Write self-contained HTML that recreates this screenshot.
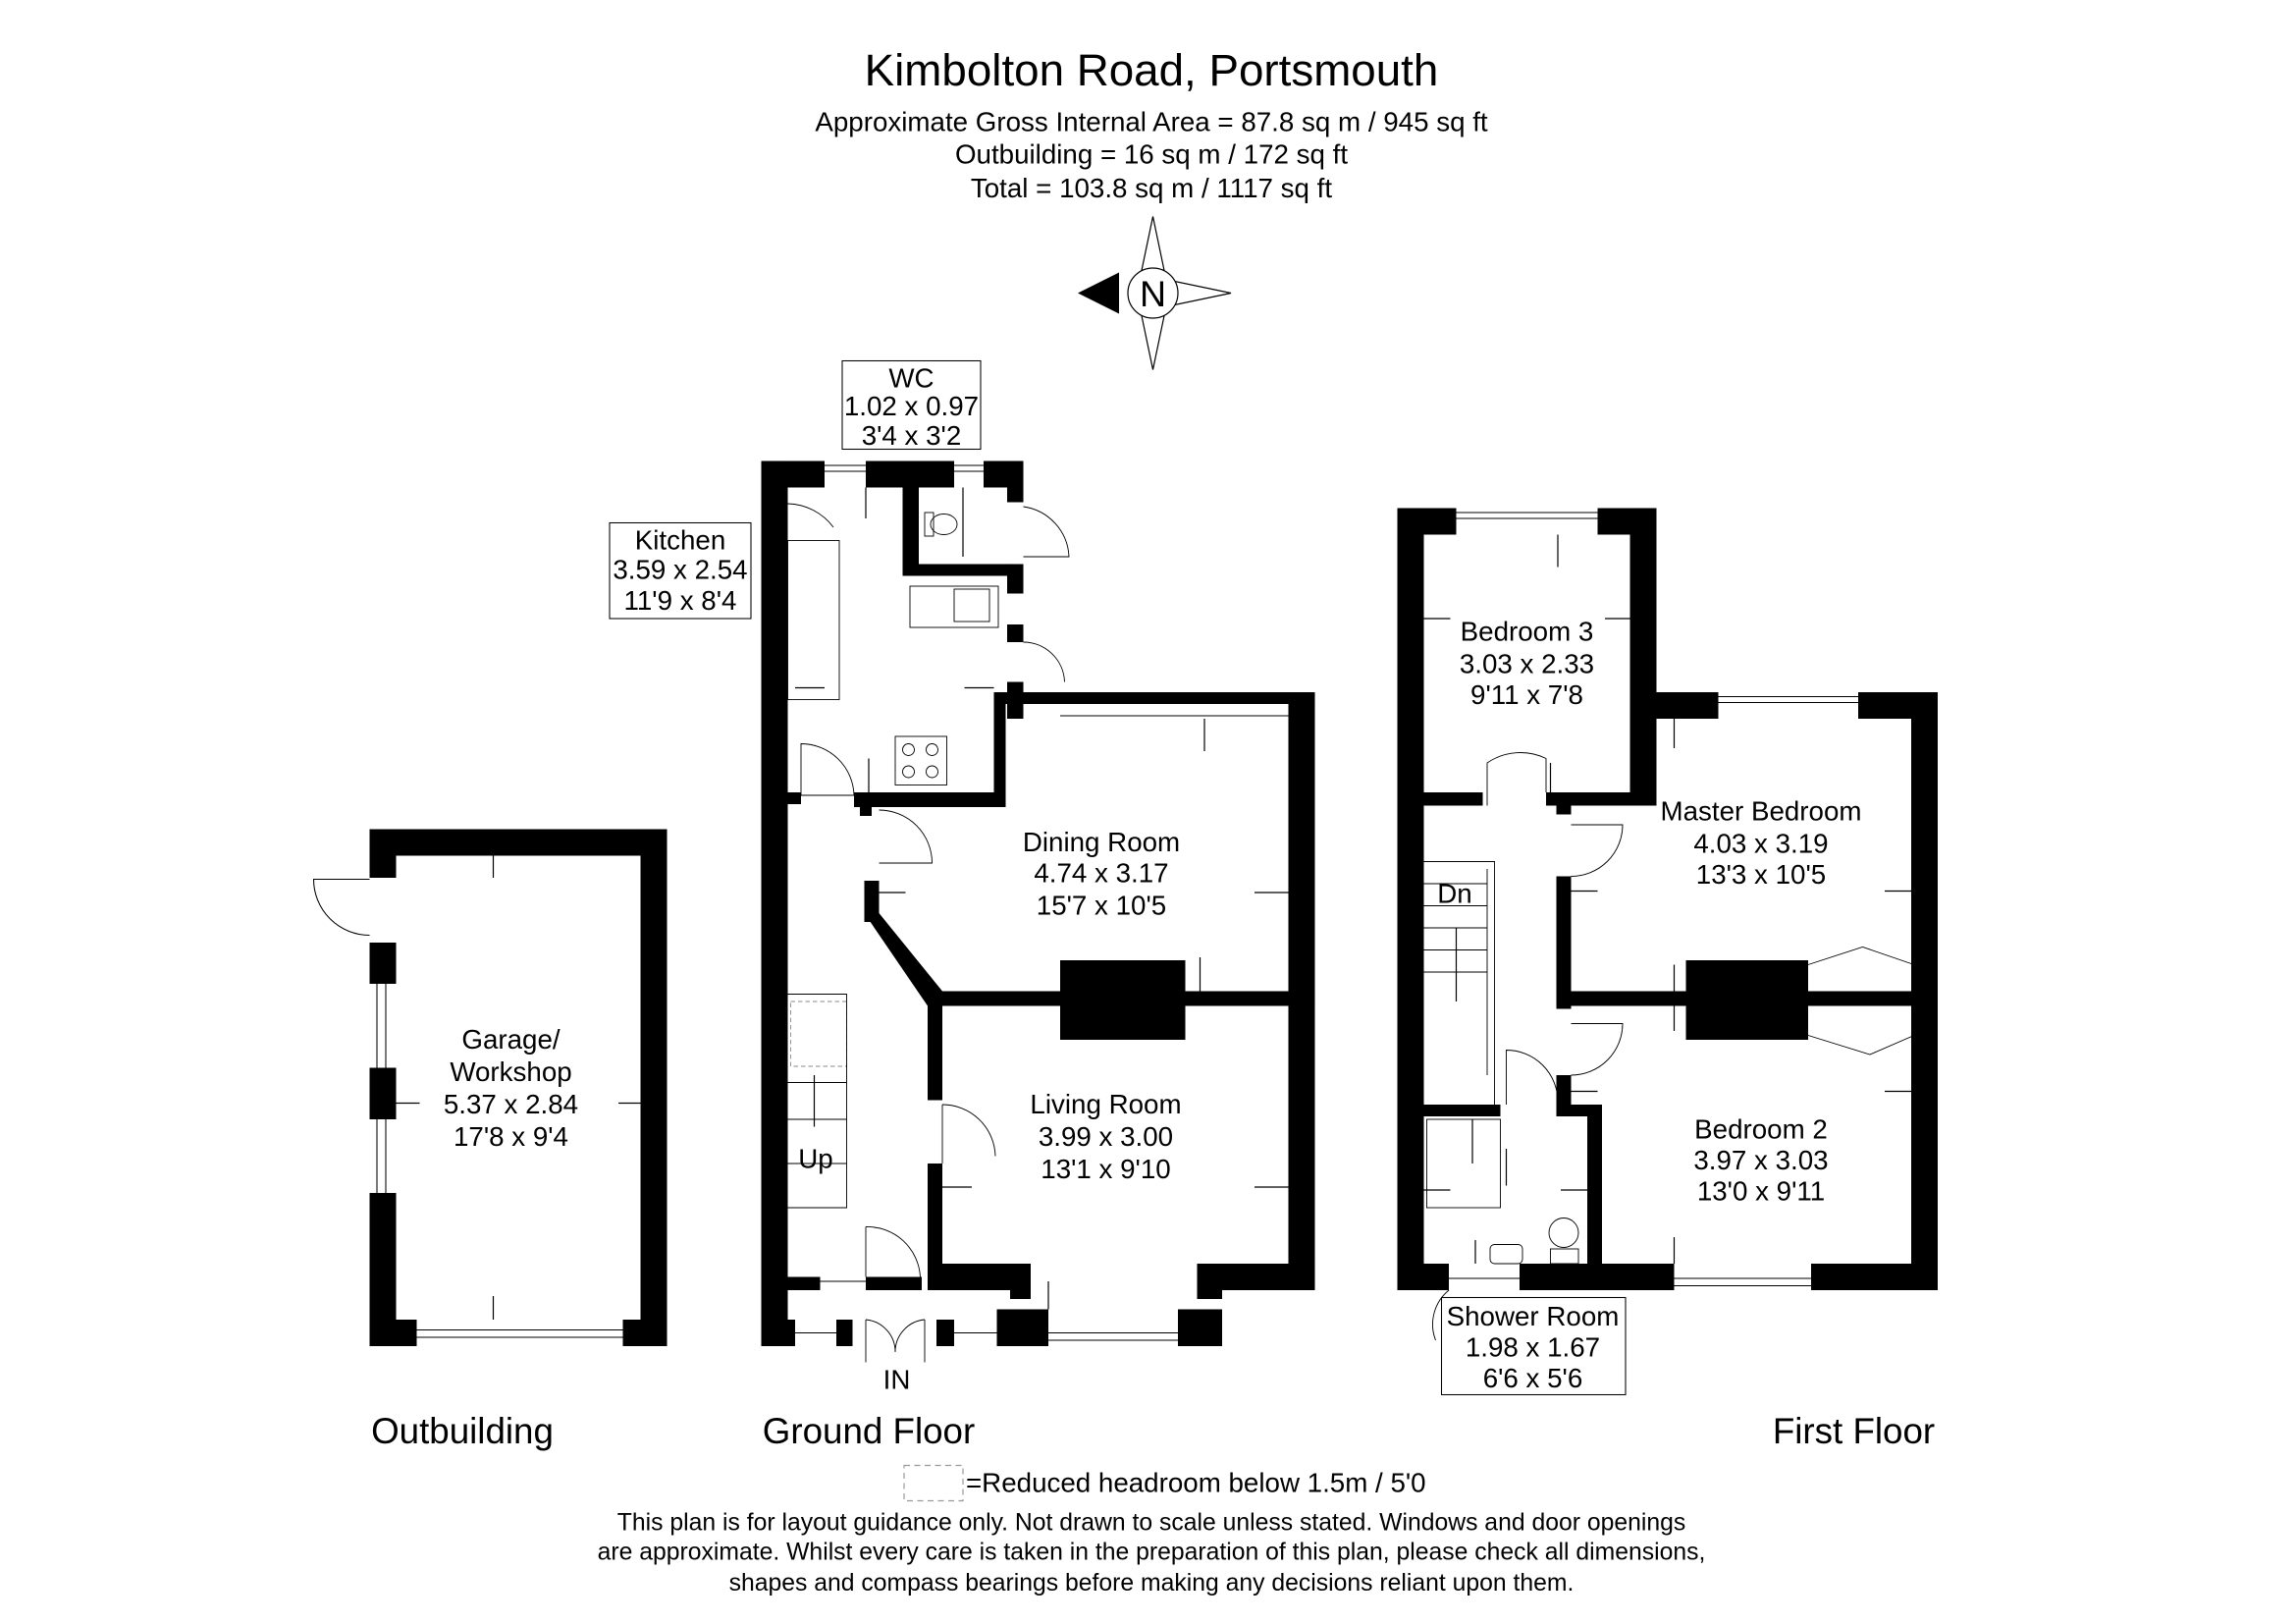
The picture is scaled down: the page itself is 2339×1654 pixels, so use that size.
<!DOCTYPE html>
<html><head><meta charset="utf-8"><style>
html,body{margin:0;padding:0;background:#fff;}
svg{display:block;}
text{font-family:"Liberation Sans",Arial,sans-serif;fill:#000;}
</style></head><body>
<svg width="2339" height="1654" viewBox="0 0 1559.33 1102.67" xmlns="http://www.w3.org/2000/svg">
<rect width="1559.33" height="1102.67" fill="#fff"/>
<g text-anchor="middle">
<text x="782" y="58" font-size="30.5">Kimbolton Road, Portsmouth</text>
<text x="782" y="89" font-size="18.5">Approximate Gross Internal Area = 87.8 sq m / 945 sq ft</text>
<text x="782" y="111" font-size="18.5">Outbuilding = 16 sq m / 172 sq ft</text>
<text x="782" y="134" font-size="18.5">Total = 103.8 sq m / 1117 sq ft</text>
</g>
<!-- compass -->
<g stroke="#000" stroke-width="0.8" fill="#fff">
<polygon points="783,147 792,190 783,199 774,190"/>
<polygon points="783,251 792,208 783,199 774,208"/>
<polygon points="836,199 793,190 783,199 793,208"/>
<circle cx="783" cy="199" r="17"/>
</g>
<polygon points="732,199 760,185 760,213" fill="#000"/>
<text x="783" y="208" font-size="25" text-anchor="middle">N</text>

<!-- OUTBUILDING -->
<g fill="#000">
<rect x="251" y="563" width="202" height="18"/>
<rect x="435" y="563" width="18" height="351"/>
<rect x="251" y="896" width="32" height="18"/>
<rect x="423" y="896" width="30" height="18"/>
<rect x="251" y="640" width="18" height="28"/>
<rect x="251" y="725" width="18" height="35"/>
<rect x="251" y="810" width="18" height="104"/>
<rect x="251" y="581" width="18" height="15"/>
</g>
<g stroke="#000" stroke-width="0.7" fill="none">
<line x1="283" y1="903" x2="423" y2="903"/><line x1="283" y1="908" x2="423" y2="908"/>
<line x1="256" y1="668" x2="256" y2="725"/><line x1="262" y1="668" x2="262" y2="725"/>
<line x1="256" y1="760" x2="256" y2="810"/><line x1="262" y1="760" x2="262" y2="810"/>
<path d="M251,597 L213,597 A38,38 0 0 0 251,635"/>
</g>
<g text-anchor="middle" font-size="18.5">
<text x="347" y="712">Garage/</text><text x="347" y="734">Workshop</text>
<text x="347" y="756">5.37 x 2.84</text><text x="347" y="778">17'8 x 9'4</text>
</g>

<!-- GROUND FLOOR -->
<g fill="#000">
<rect x="517" y="313" width="18" height="601"/>
<rect x="517" y="313" width="43" height="18"/>
<rect x="588" y="313" width="60" height="18"/>
<rect x="668" y="313" width="20" height="18"/>
<rect x="613" y="331" width="11" height="58"/>
<rect x="613" y="383" width="75" height="8"/>
<rect x="684" y="313" width="11" height="28"/>
<rect x="684" y="383" width="11" height="20"/>
<rect x="684" y="424" width="11" height="12"/>
<rect x="684" y="463" width="11" height="25"/>
<rect x="675" y="470" width="218" height="8"/>
<rect x="675" y="478" width="8" height="70"/>
<rect x="580" y="538" width="103" height="10"/>
<rect x="517" y="538" width="27" height="8"/>
<rect x="875" y="470" width="18" height="406"/>
<rect x="630" y="673" width="263" height="10"/>
<rect x="720" y="652" width="85" height="54"/>
<rect x="584" y="548" width="8" height="6"/>
<rect x="587" y="598" width="10" height="28"/>
<polygon points="587,620 597,620 640,673 630,683"/>
<rect x="630" y="680" width="10" height="67"/>
<rect x="630" y="790" width="10" height="86"/>
<rect x="630" y="858" width="70" height="18"/>
<rect x="813" y="858" width="80" height="18"/>
<rect x="588" y="867" width="38" height="9"/>
<rect x="517" y="867" width="40" height="9"/>
<rect x="517" y="896" width="23" height="18"/>
<rect x="568" y="896" width="11" height="18"/>
<rect x="636" y="896" width="12" height="18"/>
<rect x="677" y="889" width="35" height="25"/>
<rect x="800" y="889" width="30" height="25"/>
<rect x="686" y="876" width="14" height="6"/>
<rect x="813" y="876" width="17" height="6"/>
</g>
<g stroke="#000" stroke-width="0.6" fill="none">
<line x1="560" y1="316" x2="588" y2="316"/><line x1="560" y1="320" x2="588" y2="320"/>
<line x1="648" y1="316" x2="668" y2="316"/><line x1="648" y1="320" x2="668" y2="320"/>
<line x1="712" y1="472" x2="875" y2="472"/><line x1="720" y1="486" x2="875" y2="486"/>
<line x1="712" y1="905" x2="800" y2="905"/><line x1="712" y1="910" x2="800" y2="910"/>
<line x1="540" y1="905" x2="568" y2="905"/><line x1="648" y1="905" x2="677" y2="905"/>
<line x1="557" y1="870" x2="588" y2="870"/>
<rect x="535" y="367" width="35" height="108"/>
<rect x="618" y="398" width="60" height="28"/>
<rect x="648" y="400" width="24" height="22"/>
<rect x="608" y="500" width="35" height="33"/>
<circle cx="617" cy="509" r="4"/><circle cx="633" cy="509" r="4"/><circle cx="617" cy="524" r="4"/><circle cx="633" cy="524" r="4"/>
<ellipse cx="641" cy="356" rx="9" ry="7"/>
<rect x="628" y="348" width="6" height="16"/>
<path d="M695,344 A36,36 0 0 1 726,378 L695,378"/>
<path d="M695,436 A28,28 0 0 1 723,463"/>
<path d="M544,505 A36,36 0 0 1 580,540 L544,540 Z" />
<path d="M597,550 A36,36 0 0 1 633,586 L597,586"/>
<path d="M640,750 A36,36 0 0 1 676,785"/>
<line x1="640" y1="790" x2="640" y2="750"/>
<path d="M588,833 L588,867"/><path d="M588,833 A36,36 0 0 1 625,867"/>
<path d="M588,896 L588,925 M588,896 A22,22 0 0 1 608,918 M628,896 A22,22 0 0 0 608,918 M628,896 L628,925"/>
<path d="M535,342 A40,40 0 0 1 566,358"/>
<rect x="537" y="680" width="38" height="44" stroke-dasharray="3,2" stroke="#888"/>
<path d="M535,675 L575,675 L575,820 L535,820 M535,735 L575,735 M535,760 L575,760 M535,790 L575,790"/>
</g>
<g stroke="#000" stroke-width="0.8">
<line x1="588" y1="331" x2="588" y2="352"/><line x1="654" y1="331" x2="654" y2="378"/>
<line x1="540" y1="467" x2="560" y2="467"/><line x1="675" y1="467" x2="655" y2="467"/>
<line x1="590" y1="538" x2="590" y2="515"/><line x1="818" y1="488" x2="818" y2="510"/>
<line x1="597" y1="606" x2="615" y2="606"/><line x1="875" y1="606" x2="852" y2="606"/>
<line x1="815" y1="673" x2="815" y2="650"/><line x1="752" y1="683" x2="752" y2="700"/>
<line x1="640" y1="806" x2="660" y2="806"/><line x1="875" y1="806" x2="852" y2="806"/>
<line x1="553" y1="730" x2="553" y2="765"/><line x1="712" y1="889" x2="712" y2="870"/>
<line x1="335" y1="581" x2="335" y2="596"/><line x1="335" y1="896" x2="335" y2="880"/>
<line x1="269" y1="749" x2="285" y2="749"/><line x1="435" y1="749" x2="420" y2="749"/>
</g>
<g text-anchor="middle" font-size="18.5">
<rect x="572" y="245" width="94" height="60" fill="none" stroke="#000" stroke-width="0.7"/>
<text x="619" y="263">WC</text><text x="619" y="282">1.02 x 0.97</text><text x="619" y="302">3'4 x 3'2</text>
<rect x="414" y="355" width="96" height="65" fill="none" stroke="#000" stroke-width="0.7"/>
<text x="462" y="373">Kitchen</text><text x="462" y="393">3.59 x 2.54</text><text x="462" y="414">11'9 x 8'4</text>
<text x="748" y="578">Dining Room</text><text x="748" y="599">4.74 x 3.17</text><text x="748" y="621">15'7 x 10'5</text>
<text x="751" y="756">Living Room</text><text x="751" y="778">3.99 x 3.00</text><text x="751" y="800">13'1 x 9'10</text>
<text x="554" y="793">Up</text>
<text x="609" y="943">IN</text>
</g>

<!-- FIRST FLOOR -->
<g fill="#000">
<rect x="949" y="345" width="18" height="531"/>
<rect x="949" y="345" width="40" height="18"/>
<rect x="1085" y="345" width="40" height="18"/>
<rect x="1107" y="345" width="18" height="200"/>
<rect x="1107" y="470" width="60" height="18"/>
<rect x="1262" y="470" width="54" height="18"/>
<rect x="1298" y="470" width="18" height="406"/>
<rect x="967" y="538" width="40" height="9"/>
<rect x="1050" y="538" width="75" height="9"/>
<rect x="1057" y="547" width="10" height="6"/>
<rect x="1057" y="595" width="10" height="90"/>
<rect x="1057" y="673" width="259" height="10"/>
<rect x="1145" y="652" width="83" height="54"/>
<rect x="1057" y="730" width="10" height="28"/>
<rect x="967" y="750" width="52" height="8"/>
<rect x="1060" y="750" width="28" height="8"/>
<rect x="1078" y="750" width="10" height="108"/>
<rect x="949" y="858" width="35" height="18"/>
<rect x="1032" y="858" width="105" height="18"/>
<rect x="1230" y="858" width="86" height="18"/>
</g>
<g stroke="#000" stroke-width="0.6" fill="none">
<line x1="989" y1="348" x2="1085" y2="348"/><line x1="989" y1="352" x2="1085" y2="352"/>
<line x1="1167" y1="473" x2="1262" y2="473"/><line x1="1167" y1="477" x2="1262" y2="477"/>
<line x1="984" y1="868" x2="1032" y2="868"/><line x1="1137" y1="868" x2="1230" y2="868"/><line x1="1137" y1="873" x2="1230" y2="873"/>
<path d="M1010,547 L1010,518 A40,40 0 0 1 1050,515 L1050,538"/>
<path d="M1067,595 A35,35 0 0 0 1102,560 L1067,560"/>
<path d="M1067,730 A35,35 0 0 0 1102,695 L1067,695"/>
<path d="M1023,750 L1023,713 A35,35 0 0 1 1058,748"/>
<path d="M967,585 L1015,585 L1015,750 M1010,590 L1010,730 M967,600 L1010,600 M967,615 L1010,615 M967,630 L1010,630 M967,645 L1010,645 M967,660 L1010,660"/>
<rect x="969" y="760" width="50" height="60"/>
<rect x="1012" y="845" width="22" height="13" rx="3"/>
<ellipse cx="1062" cy="837" rx="10" ry="10"/><rect x="1053" y="848" width="19" height="10"/>
<path d="M1228,655 L1265,643 L1300,655 M1228,703 L1270,716 L1300,703"/>
<path d="M984,876 A30,30 0 0 0 975,910"/>
</g>
<g stroke="#000" stroke-width="0.8">
<line x1="1058" y1="363" x2="1058" y2="385"/><line x1="967" y1="420" x2="985" y2="420"/><line x1="1107" y1="420" x2="1090" y2="420"/>
<line x1="1053" y1="538" x2="1053" y2="518"/><line x1="1137" y1="488" x2="1137" y2="508"/>
<line x1="1067" y1="605" x2="1085" y2="605"/><line x1="1298" y1="605" x2="1280" y2="605"/>
<line x1="1137" y1="673" x2="1137" y2="655"/><line x1="1137" y1="683" x2="1137" y2="700"/>
<line x1="1067" y1="741" x2="1085" y2="741"/><line x1="1298" y1="741" x2="1280" y2="741"/>
<line x1="1137" y1="858" x2="1137" y2="840"/><line x1="989" y1="630" x2="989" y2="680"/>
<line x1="1000" y1="760" x2="1000" y2="790"/><line x1="1023" y1="780" x2="1023" y2="805"/>
<line x1="967" y1="808" x2="985" y2="808"/><line x1="1078" y1="808" x2="1060" y2="808"/>
<line x1="1002" y1="858" x2="1002" y2="842"/>
</g>
<g text-anchor="middle" font-size="18.5">
<text x="1037" y="435">Bedroom 3</text><text x="1037" y="457">3.03 x 2.33</text><text x="1037" y="478">9'11 x 7'8</text>
<text x="1196" y="557">Master Bedroom</text><text x="1196" y="579">4.03 x 3.19</text><text x="1196" y="600">13'3 x 10'5</text>
<text x="1196" y="773">Bedroom 2</text><text x="1196" y="794">3.97 x 3.03</text><text x="1196" y="815">13'0 x 9'11</text>
<text x="988" y="613">Dn</text>
<rect x="979" y="881" width="125" height="66" fill="none" stroke="#000" stroke-width="0.7"/>
<text x="1041" y="900">Shower Room</text><text x="1041" y="921">1.98 x 1.67</text><text x="1041" y="942">6'6 x 5'6</text>
</g>

<g font-size="24.5" text-anchor="middle">
<text x="314" y="980">Outbuilding</text>
<text x="590" y="980">Ground Floor</text>
<text x="1259" y="980">First Floor</text>
</g>
<rect x="614" y="995" width="40" height="24" fill="none" stroke="#999" stroke-width="0.8" stroke-dasharray="4,3"/>
<text x="656" y="1013" font-size="18.5">=Reduced headroom below 1.5m / 5'0</text>
<g text-anchor="middle" font-size="16.5">
<text x="782" y="1039">This plan is for layout guidance only. Not drawn to scale unless stated. Windows and door openings</text>
<text x="782" y="1059">are approximate. Whilst every care is taken in the preparation of this plan, please check all dimensions,</text>
<text x="782" y="1080">shapes and compass bearings before making any decisions reliant upon them.</text>
</g>
</svg>
</body></html>
